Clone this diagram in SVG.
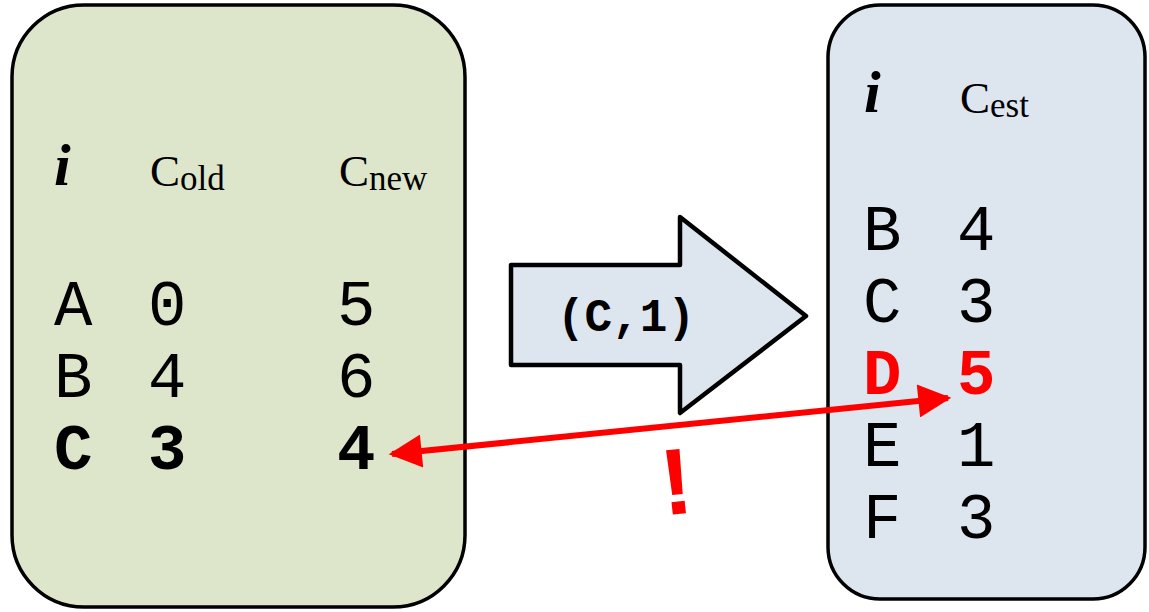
<svg xmlns="http://www.w3.org/2000/svg" width="1149" height="612" viewBox="0 0 1149 612">
<defs>
<style>
.box{stroke:#000;stroke-width:3.5}
.hdr{font-family:"Liberation Serif",serif;font-size:45px;fill:#000}
.sub{font-size:35px}
.ii{font-family:"Liberation Serif",serif;font-size:60px;font-weight:bold;font-style:italic;fill:#000}
.mono{font-family:"Liberation Mono",monospace;font-size:64px;fill:#000}
.b{font-weight:bold}
.red{fill:#ff0000}
</style>
<marker id="ah" viewBox="0 0 10 10" refX="9" refY="5" markerWidth="6" markerHeight="5.5" orient="auto-start-reverse" markerUnits="strokeWidth">
<path d="M0,0 L10,5 L0,10 z" fill="#ff0000"/>
</marker>
</defs>
<rect width="1149" height="612" fill="#fff"/>
<g id="old">
<rect class="box" x="12" y="5" width="453" height="602" rx="72" ry="72" fill="#dde6cb"/>
<text class="ii" x="54" y="185">i</text>
<text class="hdr" x="150" y="186">C<tspan class="sub" dy="4">old</tspan></text>
<text class="hdr" x="339" y="186">C<tspan class="sub" dy="4">new</tspan></text>
<text class="mono" x="54" y="325">A</text>
<text class="mono" x="148" y="325">0</text>
<text class="mono" x="337" y="325">5</text>
<text class="mono" x="54" y="397">B</text>
<text class="mono" x="148" y="397">4</text>
<text class="mono" x="337" y="397">6</text>
<text class="mono b" x="54" y="469">C</text>
<text class="mono b" x="148" y="469">3</text>
<text class="mono b" x="337" y="469">4</text>
</g>
<g id="est">
<rect class="box" x="828" y="5" width="317" height="594" rx="52" ry="52" fill="#dde5ef"/>
<text class="ii" x="864" y="112">i</text>
<text class="hdr" x="960" y="113">C<tspan class="sub" dy="4">est</tspan></text>
<text class="mono" x="863" y="250">B</text>
<text class="mono" x="957" y="250">4</text>
<text class="mono" x="863" y="322">C</text>
<text class="mono" x="957" y="322">3</text>
<text class="mono b red" x="863" y="394">D</text>
<text class="mono b red" x="957" y="394">5</text>
<text class="mono" x="863" y="466">E</text>
<text class="mono" x="957" y="466">1</text>
<text class="mono" x="863" y="538">F</text>
<text class="mono" x="957" y="538">3</text>
</g>
<g id="send">
<path d="M511,265 L680,265 L680,217 L806,316 L680,413 L680,365 L511,365 Z" fill="#dde5ef" stroke="#000" stroke-width="4.5" stroke-linejoin="round"/>
<text x="626" y="331" text-anchor="middle" font-family="'Liberation Mono',monospace" font-weight="bold" font-size="46" fill="#000">(C,1)</text>
</g>
<g id="connectors">
<line x1="392" y1="454" x2="948" y2="398" stroke="#ff0000" stroke-width="6" marker-start="url(#ah)" marker-end="url(#ah)"/>
<text x="676" y="514" text-anchor="middle" transform="rotate(-6 676 480)" font-family="'Liberation Sans',sans-serif" font-weight="bold" font-size="94" fill="#ff0000">!</text>
</g>
</svg>
